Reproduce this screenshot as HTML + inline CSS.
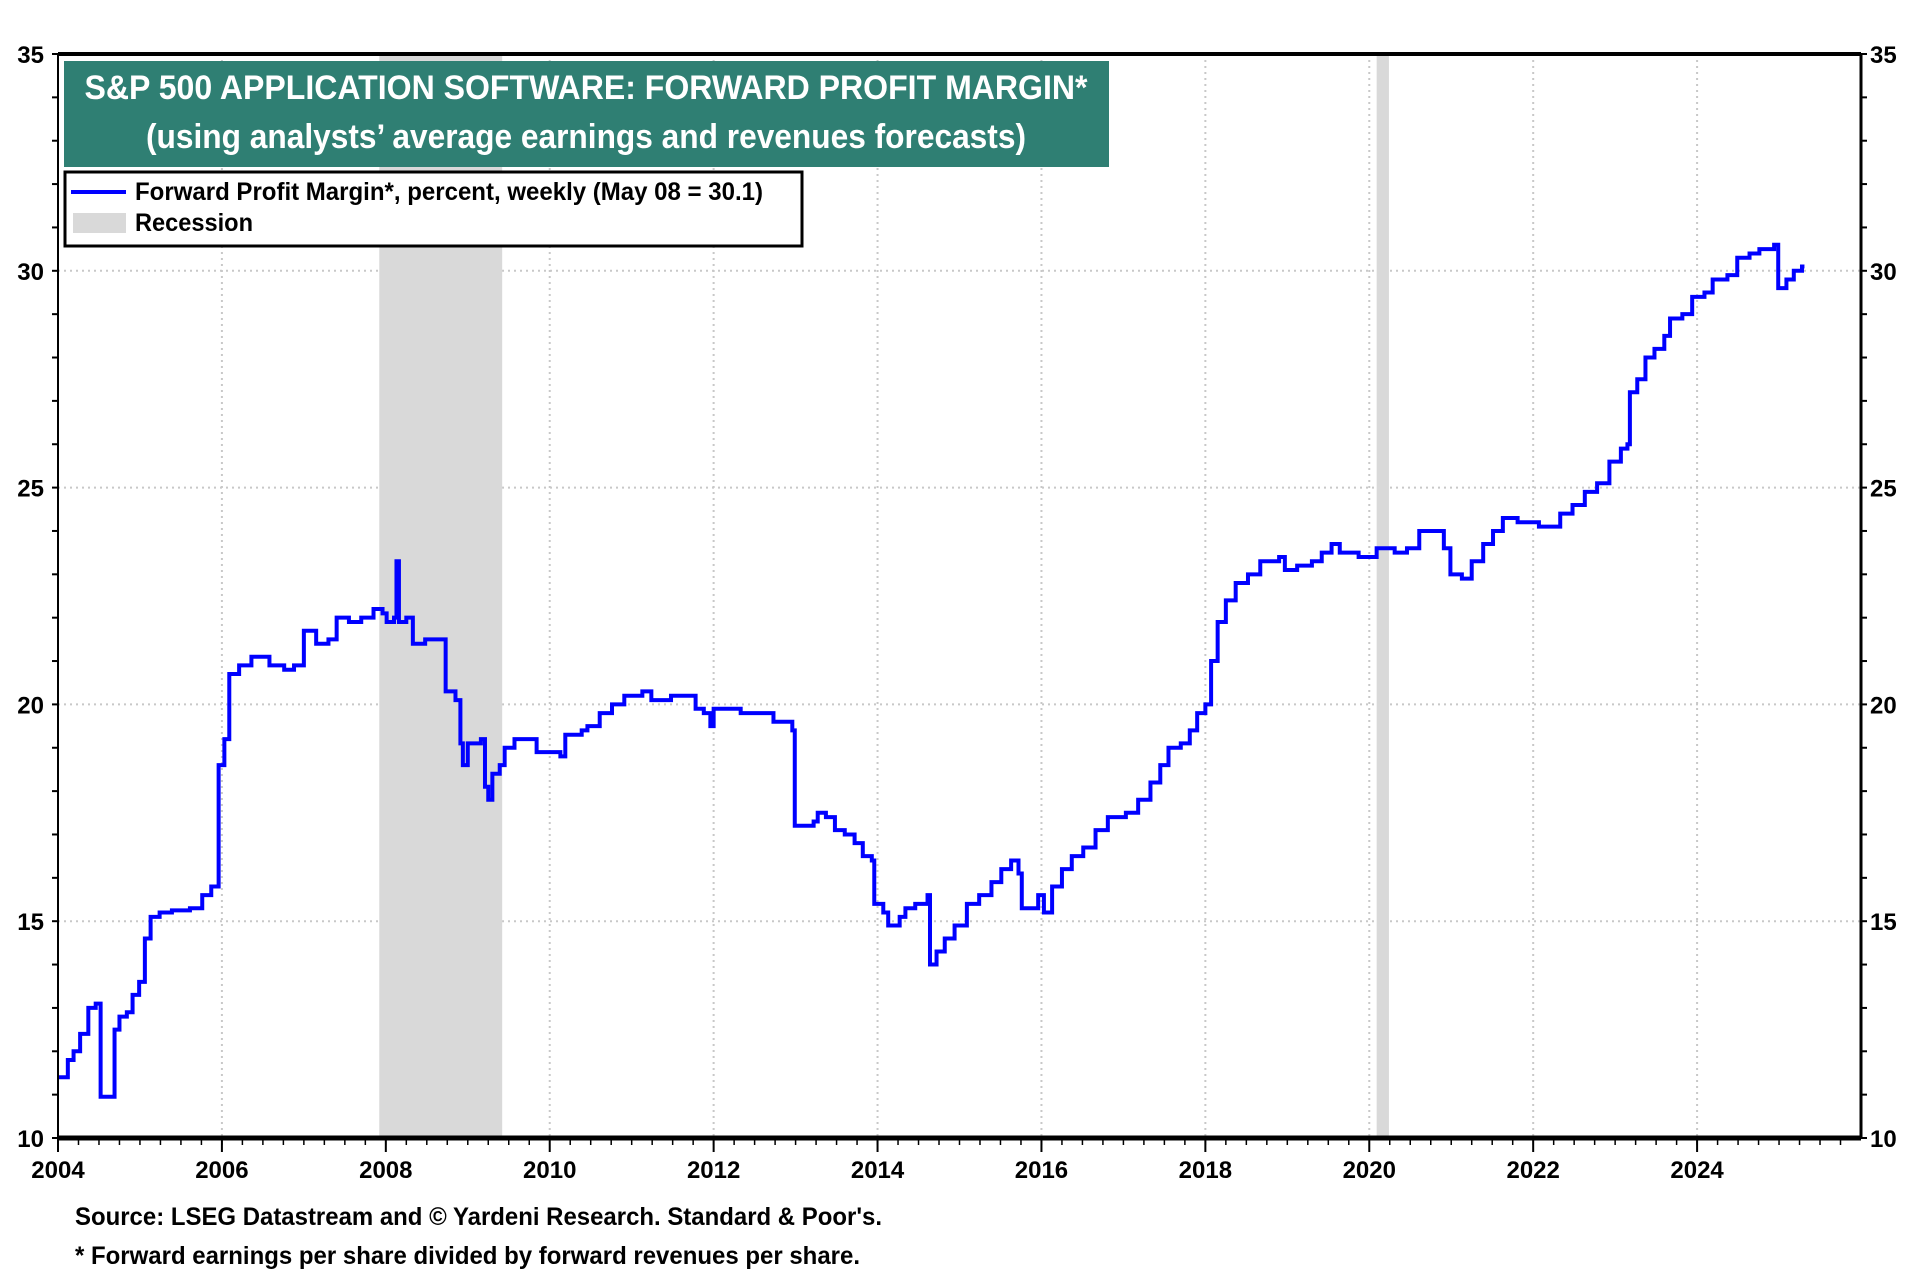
<!DOCTYPE html>
<html><head><meta charset="utf-8"><style>
html,body{margin:0;padding:0;background:#fff;}
svg{display:block;font-family:"Liberation Sans Narrow","Liberation Sans",sans-serif;font-weight:bold;}
</style></head><body>
<svg id="chart" width="1920" height="1280" viewBox="0 0 1920 1280" xmlns="http://www.w3.org/2000/svg">
<g id="grid"></g>
<g id="rec"></g>
<g id="ticks"></g>
<path id="line" fill="none" stroke="#0000ff" stroke-width="4"/>
<rect x="58" y="54" width="1803" height="1084" fill="none" stroke="#000" stroke-width="2"/>
<line x1="58" y1="54" x2="1861" y2="54" stroke="#000" stroke-width="4"/>
<line x1="58" y1="1138" x2="1861" y2="1138" stroke="#000" stroke-width="5"/>
<line x1="1861" y1="54" x2="1861" y2="1138" stroke="#000" stroke-width="3"/>
<g>
<rect x="64" y="61" width="1045" height="106" fill="#2f7f73"/>
<text x="586" y="99" text-anchor="middle" fill="#fff" font-size="34" textLength="1003" lengthAdjust="spacingAndGlyphs">S&amp;P 500 APPLICATION SOFTWARE: FORWARD PROFIT MARGIN*</text>
<text x="586" y="148" text-anchor="middle" fill="#fff" font-size="34" textLength="880" lengthAdjust="spacingAndGlyphs">(using analysts’ average earnings and revenues forecasts)</text>
</g>
<g>
<rect x="65" y="172" width="737" height="74" fill="#fff" stroke="#000" stroke-width="3"/>
<line x1="71" y1="192" x2="126" y2="192" stroke="#0000ff" stroke-width="4"/>
<text x="135" y="200" font-size="25" textLength="628" lengthAdjust="spacingAndGlyphs">Forward Profit Margin*, percent, weekly (May 08 = 30.1)</text>
<rect x="73" y="213" width="53" height="20" fill="#d9d9d9"/>
<text x="135" y="231" font-size="25" textLength="118" lengthAdjust="spacingAndGlyphs">Recession</text>
</g>
<text x="75" y="1225" font-size="25" textLength="807" lengthAdjust="spacingAndGlyphs">Source: LSEG Datastream and © Yardeni Research. Standard &amp; Poor's.</text>
<text x="75" y="1264" font-size="25" textLength="785" lengthAdjust="spacingAndGlyphs">* Forward earnings per share divided by forward revenues per share.</text>
</svg>
<script>
const years = [2004.00,2004.12,2004.19,2004.27,2004.37,2004.46,2004.52,2004.64,2004.69,2004.75,2004.84,2004.91,2004.99,2005.06,2005.13,2005.24,2005.39,2005.61,2005.76,2005.87,2005.96,2006.03,2006.09,2006.21,2006.36,2006.48,2006.58,2006.76,2006.88,2007.00,2007.15,2007.30,2007.40,2007.55,2007.70,2007.85,2007.96,2008.01,2008.10,2008.13,2008.16,2008.25,2008.33,2008.48,2008.67,2008.73,2008.85,2008.91,2008.94,2009.00,2009.16,2009.21,2009.25,2009.30,2009.39,2009.45,2009.57,2009.75,2009.84,2010.01,2010.13,2010.19,2010.39,2010.46,2010.61,2010.76,2010.91,2011.13,2011.24,2011.36,2011.48,2011.66,2011.78,2011.88,2011.96,2012.00,2012.18,2012.33,2012.63,2012.73,2012.96,2012.99,2013.22,2013.27,2013.37,2013.48,2013.60,2013.72,2013.82,2013.93,2013.96,2014.07,2014.13,2014.27,2014.34,2014.46,2014.61,2014.64,2014.72,2014.82,2014.94,2015.09,2015.24,2015.39,2015.51,2015.63,2015.72,2015.76,2015.88,2015.96,2016.03,2016.13,2016.25,2016.37,2016.51,2016.66,2016.81,2017.03,2017.18,2017.33,2017.45,2017.55,2017.70,2017.81,2017.90,2018.00,2018.07,2018.15,2018.25,2018.37,2018.52,2018.67,2018.90,2018.97,2019.12,2019.30,2019.42,2019.54,2019.64,2019.87,2020.09,2020.31,2020.46,2020.61,2020.84,2020.91,2020.99,2021.13,2021.25,2021.39,2021.51,2021.63,2021.81,2021.96,2022.07,2022.22,2022.33,2022.48,2022.63,2022.78,2022.93,2023.07,2023.15,2023.18,2023.27,2023.37,2023.48,2023.60,2023.67,2023.82,2023.94,2024.09,2024.19,2024.37,2024.49,2024.64,2024.76,2024.94,2024.99,2025.09,2025.18,2025.28];
const margins = [11.4,11.8,12.0,12.4,13.0,13.1,10.95,10.95,12.5,12.8,12.9,13.3,13.6,14.6,15.1,15.2,15.25,15.3,15.6,15.8,18.6,19.2,20.7,20.9,21.1,21.1,20.9,20.8,20.9,21.7,21.4,21.5,22.0,21.9,22.0,22.2,22.1,21.9,22.0,23.3,21.9,22.0,21.4,21.5,21.5,20.3,20.1,19.1,18.6,19.1,19.2,18.1,17.8,18.4,18.6,19.0,19.2,19.2,18.9,18.9,18.8,19.3,19.4,19.5,19.8,20.0,20.2,20.3,20.1,20.1,20.2,20.2,19.9,19.8,19.5,19.9,19.9,19.8,19.8,19.6,19.4,17.2,17.3,17.5,17.4,17.1,17.0,16.8,16.5,16.4,15.4,15.2,14.9,15.1,15.3,15.4,15.6,14.0,14.3,14.6,14.9,15.4,15.6,15.9,16.2,16.4,16.1,15.3,15.3,15.6,15.2,15.8,16.2,16.5,16.7,17.1,17.4,17.5,17.8,18.2,18.6,19.0,19.1,19.4,19.8,20.0,21.0,21.9,22.4,22.8,23.0,23.3,23.4,23.1,23.2,23.3,23.5,23.7,23.5,23.4,23.6,23.5,23.6,24.0,24.0,23.6,23.0,22.9,23.3,23.7,24.0,24.3,24.2,24.2,24.1,24.1,24.4,24.6,24.9,25.1,25.6,25.9,26.0,27.2,27.5,28.0,28.2,28.5,28.9,29.0,29.4,29.5,29.8,29.9,30.3,30.4,30.5,30.6,29.6,29.8,30.0,30.1];
const recStarts = [2007.92, 2020.09];
const recEnds = [2009.42, 2020.24];
const yTicks = [10,15,20,25,30,35];
const xTickYears = [2004,2006,2008,2010,2012,2014,2016,2018,2020,2022,2024];

const X0=58, X1=1861, Y0=54, Y1=1138, YMIN=10, YMAX=35, XMIN=2004, XMAX=2026;
const xs = y => X0 + (y-XMIN)/(XMAX-XMIN)*(X1-X0);
const ys = v => Y1 - (v-YMIN)/(YMAX-YMIN)*(Y1-Y0);
const NS="http://www.w3.org/2000/svg";
function mk(tag, attrs, parent){const e=document.createElementNS(NS,tag);for(const k in attrs)e.setAttribute(k,attrs[k]);parent.appendChild(e);return e;}
const grid=document.getElementById('grid'), rec=document.getElementById('rec'), tk=document.getElementById('ticks');

yTicks.forEach(v=>{
  if(v>YMIN && v<YMAX){const g=mk('line',{x1:X0,x2:X1,y1:ys(v),y2:ys(v),stroke:'#c8c8c8','stroke-width':2,'stroke-dasharray':'2,4'},grid);
  
  }
  const l=mk('text',{x:44,y:ys(v)+9,'text-anchor':'end','font-size':24},tk); l.textContent=v;
  
  
  const r=mk('text',{x:1870,y:ys(v)+9,'font-size':24},tk); r.textContent=v;
  
  
});
for(let v=YMIN; v<=YMAX; v++){
  mk('line',{x1:X0-6,x2:X0,y1:ys(v),y2:ys(v),stroke:'#000','stroke-width':2},tk);
  mk('line',{x1:X1,x2:X1+6,y1:ys(v),y2:ys(v),stroke:'#000','stroke-width':2},tk);
}
xTickYears.forEach(yr=>{
  if(yr>XMIN){const g=mk('line',{x1:xs(yr),x2:xs(yr),y1:Y0,y2:Y1,stroke:'#c8c8c8','stroke-width':2,'stroke-dasharray':'2,4'},grid);
  
  }
  const t=mk('text',{x:xs(yr),y:1178,'text-anchor':'middle','font-size':24},tk); t.textContent=yr;
  
  
  mk('line',{x1:xs(yr),x2:xs(yr),y1:Y1,y2:Y1+14,stroke:'#000','stroke-width':2},tk);
});
for(let q=XMIN*4; q<XMAX*4; q++){
  const yr=q/4; mk('line',{x1:xs(yr),x2:xs(yr),y1:Y1,y2:Y1+7,stroke:'#000','stroke-width':1.5},tk);
}
recStarts.forEach((s,i)=>{
  const r=mk('rect',{x:xs(s),y:Y0,width:xs(recEnds[i])-xs(s),height:Y1-Y0,fill:'#d9d9d9'},rec);
  
  
});
let d='M'+xs(years[0])+','+ys(margins[0]);
for(let i=1;i<years.length;i++){ d+=' H'+xs(years[i])+' V'+ys(margins[i]); }
d+=' H'+xs(years[years.length-1]+0.03);
document.getElementById('line').setAttribute('d',d);
</script>
</body></html>
